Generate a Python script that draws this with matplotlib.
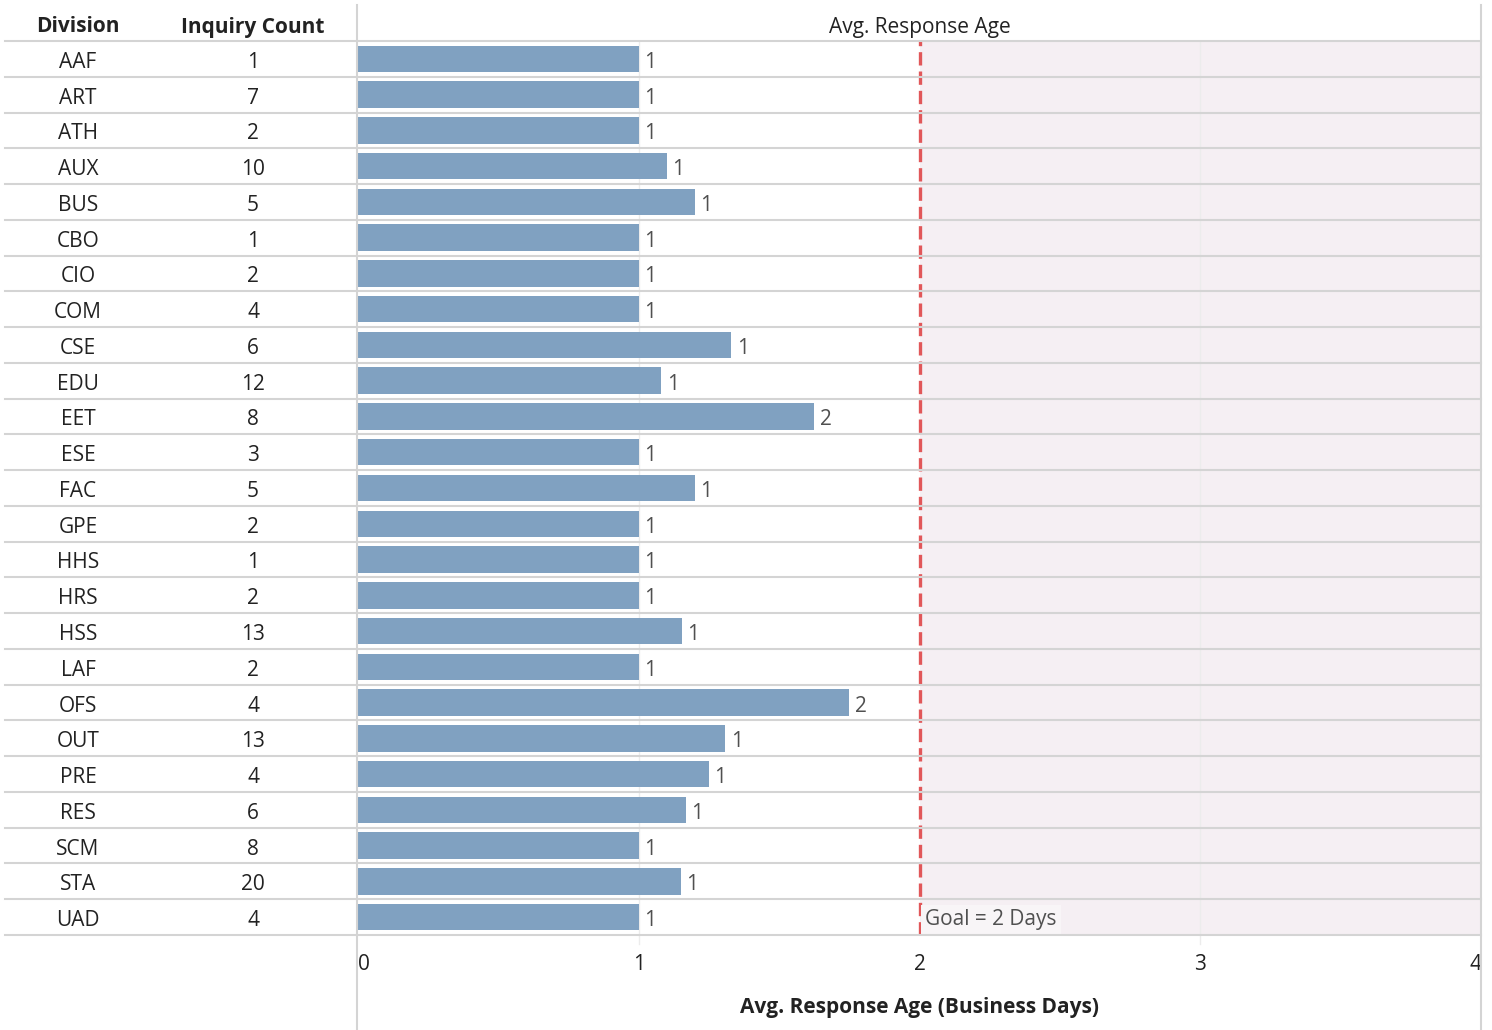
import matplotlib
matplotlib.use("Agg")
import matplotlib.pyplot as plt
import matplotlib.transforms as mtransforms

plt.rcParams['font.family'] = ['Open Sans', 'DejaVu Sans']

divisions = ["AAF", "ART", "ATH", "AUX", "BUS", "CBO", "CIO", "COM", "CSE", "EDU",
             "EET", "ESE", "FAC", "GPE", "HHS", "HRS", "HSS", "LAF", "OFS", "OUT",
             "PRE", "RES", "SCM", "STA", "UAD"]
inquiry_counts = [1, 7, 2, 10, 5, 1, 2, 4, 6, 12, 8, 3, 5, 2, 1, 2, 13, 2, 4, 13,
                  4, 6, 8, 20, 4]
avg_response_age = [1.0, 1.0, 1.0, 1.10, 1.20, 1.0, 1.0, 1.0, 1.33, 1.08,
                    1.625, 1.0, 1.20, 1.0, 1.0, 1.0, 1.154, 1.0, 1.75, 1.308,
                    1.25, 1.167, 1.0, 1.15, 1.0]
value_labels = ["1", "1", "1", "1", "1", "1", "1", "1", "1", "1",
                "2", "1", "1", "1", "1", "1", "1", "1", "2", "1",
                "1", "1", "1", "1", "1"]
goal_days = 2
x_ticks = [0, 1, 2, 3, 4]

W, H = 1492, 1030
fig = plt.figure(figsize=(W / 100, H / 100), dpi=100)

left_px, right_px, top_px, bottom_px = 358, 1481, 41, 935
ax = fig.add_axes([left_px / W, 1 - bottom_px / H, (right_px - left_px) / W, (bottom_px - top_px) / H])

n = len(divisions)
ys = list(range(n))
ax.set_ylim(n - 0.5, -0.5)
ax.set_xlim(0, 4)

TXT = '#222222'
FS = 15

# goal shading
ax.axvspan(goal_days, 4, color='#f5eff3', zorder=0, lw=0)
# faint gridlines
for t in [1, 3]:
    ax.plot([t, t], [-0.5, n - 0.5 + 0.25], color='#ececec', lw=1, zorder=0.5, clip_on=False)

ax.barh(ys, avg_response_age, height=0.74, color='#80a1c1', zorder=2)
for y, v, lab in zip(ys, avg_response_age, value_labels):
    ax.annotate(lab, xy=(v, y), xytext=(4, -2.5), textcoords='offset points',
                va='center', ha='left', fontsize=FS, color='#505050', zorder=3)

ax.axvline(goal_days, color='#e15759', lw=2.4, ls=(0, (4, 1.8)), zorder=3)
ax.annotate("Goal = 2 Days", xy=(goal_days, n - 1), xytext=(4, -1.5), textcoords='offset points',
            va='center', ha='left', fontsize=FS, color='#505050', zorder=4,
            bbox=dict(boxstyle='square,pad=0.2', facecolor='#f8f5f7', edgecolor='none'))

for s in ax.spines.values():
    s.set_visible(False)
ax.set_yticks([])
ax.set_xticks([])

# x tick labels
ttrans = mtransforms.blended_transform_factory(ax.transData, fig.transFigure)
for t in x_ticks:
    ha = 'center'
    if t == 0:
        ha = 'left'
    elif t == 4:
        ha = 'right'
    ax.text(t, 1 - 965 / H, str(t), transform=ttrans,
            ha=ha, va='center', fontsize=FS, color=TXT)

fig.text((left_px + right_px) / 2 / W, 1 - 1008 / H, "Avg. Response Age (Business Days)",
         ha='center', va='center', fontsize=FS, fontweight='bold', color=TXT)
fig.text((left_px + right_px) / 2 / W, 1 - 27 / H, "Avg. Response Age",
         ha='center', va='center', fontsize=FS, color=TXT)

# table headers
fig.text(78 / W, 1 - 27 / H, "Division", ha='center', va='center', fontsize=FS, fontweight='bold', color=TXT)
fig.text(253 / W, 1 - 27 / H, "Inquiry Count", ha='center', va='center', fontsize=FS, fontweight='bold', color=TXT)

trans = mtransforms.blended_transform_factory(fig.transFigure, ax.transData)
off = mtransforms.ScaledTranslation(0, -2.5 / 72, fig.dpi_scale_trans)
for y, d, c in zip(ys, divisions, inquiry_counts):
    ax.text(78 / W, y, d, transform=trans + off, ha='center', va='center', fontsize=FS, color=TXT)
    ax.text(253 / W, y, str(c), transform=trans + off, ha='center', va='center', fontsize=FS, color=TXT)

# row separators
for b in range(n + 1):
    ax.plot([5 / W, right_px / W], [b - 0.5, b - 0.5], transform=trans, color='#d4d4d4', lw=1.5,
            clip_on=False, zorder=5)

# vertical borders
for xp in [357, 1481]:
    fig.add_artist(plt.Line2D([xp / W, xp / W], [0, 1 - 5 / H], transform=fig.transFigure,
                              color='#d4d4d4', lw=1.5))

fig.savefig("out.png", dpi=100, facecolor='white')
